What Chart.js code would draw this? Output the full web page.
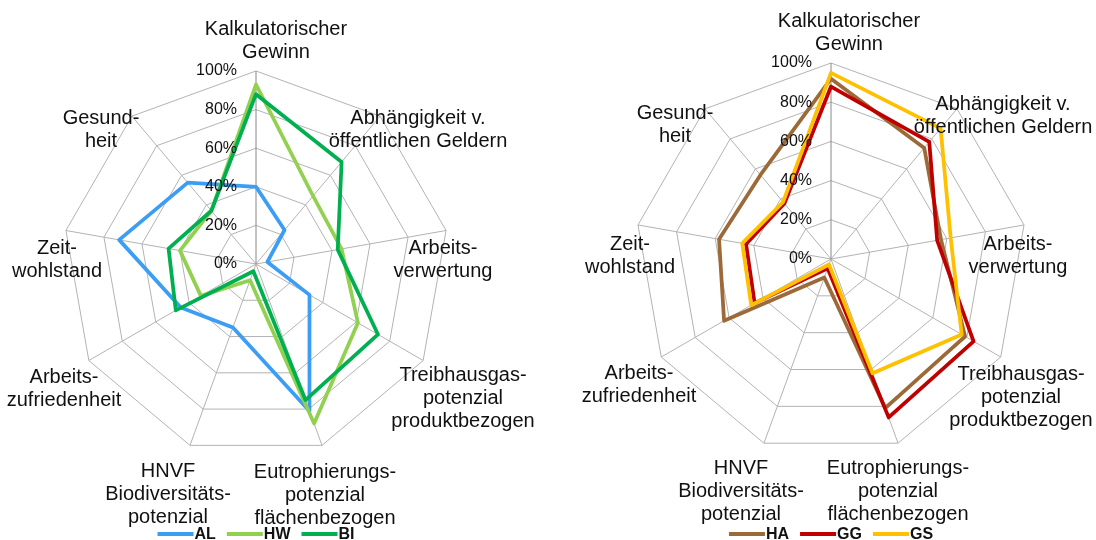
<!DOCTYPE html>
<html>
<head>
<meta charset="utf-8">
<script src="https://cdn.jsdelivr.net/npm/chart.js@4.4.1/dist/chart.umd.min.js"></script>
<style>
  html, body { margin: 0; padding: 0; background: #fff; }
  #wrap { display: flex; width: 1096px; height: 540px; }
  .box { width: 548px; height: 540px; }
</style>
</head>
<body>
<div id="wrap">
  <div class="box"><canvas id="leftChart" width="548" height="540"></canvas></div>
  <div class="box"><canvas id="rightChart" width="548" height="540"></canvas></div>
</div>
<script>
// axes of both radar charts (clockwise from the top)
const categories = [
    ['Kalkulatorischer', 'Gewinn'],
    ['Abhängigkeit v.', 'öffentlichen Geldern'],
    ['Arbeits-', 'verwertung'],
    ['Treibhausgas-', 'potenzial', 'produktbezogen'],
    ['Eutrophierungs-', 'potenzial', 'flächenbezogen'],
    ['HNVF', 'Biodiversitäts-', 'potenzial'],
    ['Arbeits-', 'zufriedenheit'],
    ['Zeit-', 'wohlstand'],
    ['Gesund-', 'heit']
];
const tickValues = [0, 20, 40, 60, 80, 100];

// left chart (%)
const alValues = [40, 23, 6, 32, 81, 35, 45, 72, 55];
const hwValues = [93, 46, 45, 61, 88, 9, 33, 40, 36];
const biValues = [88, 69, 43, 73, 75, 4, 48, 46, 36];

// right chart (%)
const haValues = [92, 74, 57, 79, 81, 10, 63, 58, 56];
const ggValues = [88, 78, 55, 84, 86, 5, 45, 44, 37];
const gsValues = [95, 87, 62, 77, 62, 3, 47, 46, 38];

// where the axis captions sit, relative to the chart centre (first line)
const leftLabelPos = [[20, -235], [162, -146], [187, -16], [207, 111], [69, 208], [-88, 207], [-192, 113], [-199, -16], [-155, -146]];
const rightLabelPos = [[18, -238], [172, -155], [187, -15], [190, 115], [67, 209], [-90, 209], [-192, 114], [-201, -15], [-156, -146]];

const FONT = '"Liberation Sans", Arial, sans-serif';

const radarText = {
    id: 'radarText',
    afterDatasetsDraw(chart, args, opts) {
        const ctx = chart.ctx;
        const r = chart.scales.r;
        ctx.save();
        ctx.fillStyle = '#111';

        // value axis labels, left of the top spoke
        ctx.font = '16px ' + FONT;
        ctx.textAlign = 'right';
        ctx.textBaseline = 'middle';
        tickValues.forEach(v => {
            const y = r.yCenter - r.getDistanceFromCenterForValue(v);
            ctx.fillText(v + '%', r.xCenter - 19, y);
        });

        // axis captions
        ctx.font = '20px ' + FONT;
        ctx.textAlign = 'center';
        chart.data.labels.forEach((lines, i) => {
            const [dx, dy] = opts.labelPos[i];
            lines.forEach((line, k) => {
                ctx.fillText(line, r.xCenter + dx, r.yCenter + dy + k * 23.3);
            });
        });

        // legend at the bottom
        ctx.font = 'bold 16px ' + FONT;
        ctx.textAlign = 'left';
        const lineLen = 36, itemGap = 11;
        const items = chart.data.datasets.map(ds => ({
            label: ds.label, color: ds.borderColor, w: ctx.measureText(ds.label).width
        }));
        let total = items.reduce((s, it) => s + lineLen + 1 + it.w, 0) + itemGap * (items.length - 1);
        let x = r.xCenter - total / 2;
        const y = 534;
        items.forEach(it => {
            ctx.strokeStyle = it.color;
            ctx.lineWidth = 4;
            ctx.beginPath();
            ctx.moveTo(x, y);
            ctx.lineTo(x + lineLen, y);
            ctx.stroke();
            ctx.fillText(it.label, x + lineLen + 1, y + 1);
            x += lineLen + 1 + it.w + itemGap;
        });
        ctx.restore();
    }
};

function makeRadar(canvasId, datasets, padding, labelPos) {
    return new Chart(document.getElementById(canvasId), {
        type: 'radar',
        data: {
            labels: categories,
            datasets: datasets.map((d, i) => ({
                label: d.label,
                data: d.values,
                borderColor: d.color,
                backgroundColor: d.color,
                borderWidth: 3.75,
                fill: false,
                pointRadius: 0,
                pointHoverRadius: 0,
                order: datasets.length - i
            }))
        },
        options: {
            responsive: false,
            animation: false,
            layout: {padding: padding},
            elements: {line: {tension: 0, borderJoinStyle: 'round'}},
            plugins: {
                legend: {display: false},
                tooltip: {enabled: false},
                radarText: {labelPos: labelPos}
            },
            scales: {
                r: {
                    min: 0,
                    max: 100,
                    ticks: {display: false, stepSize: 20},
                    pointLabels: {display: false},
                    grid: {color: '#b3b3b3', lineWidth: 1},
                    angleLines: {
                        color: ctx => ctx.index === 0 ? '#888888' : '#b3b3b3',
                        lineWidth: 1
                    }
                }
            }
        },
        plugins: [radarText]
    });
}

makeRadar('leftChart', [
    {label: 'AL', values: alValues, color: '#3c9df5'},
    {label: 'HW', values: hwValues, color: '#92d050'},
    {label: 'BI', values: biValues, color: '#00b050'}
], {left: 63, right: 99, top: 71, bottom: 83}, leftLabelPos);

makeRadar('rightChart', [
    {label: 'HA', values: haValues, color: '#9c6a38'},
    {label: 'GG', values: ggValues, color: '#c00000'},
    {label: 'GS', values: gsValues, color: '#ffc000'}
], {left: 87, right: 69, top: 63, bottom: 85}, rightLabelPos);
</script>
</body>
</html>
